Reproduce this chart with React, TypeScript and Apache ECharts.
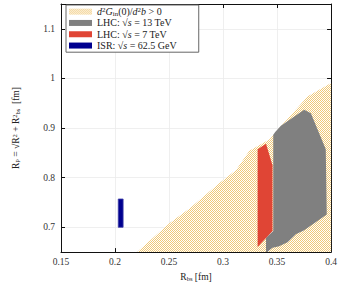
import React, { useEffect, useRef } from "react";
import * as echarts from "echarts";

// Axis ticks
const xTicks = [0.15, 0.2, 0.25, 0.3, 0.35, 0.4];
const yTicks = [0.7, 0.8, 0.9, 1, 1.1];

// Region d2G/d2b > 0 (hatched)
const hatchX = [0.2204, 0.2506, 0.269, 0.2813, 0.2967, 0.3121, 0.3244, 0.3428, 0.352, 0.3785, 0.4, 0.4];
const hatchY = [0.65, 0.7087, 0.7378, 0.7605, 0.7895, 0.8153, 0.8541, 0.8767, 0.8994, 0.964, 0.991, 0.65];

// LHC 13 TeV region
const lhc13X = [0.3398, 0.3398, 0.3465, 0.3465, 0.3483, 0.3536, 0.3751, 0.3813, 0.3951, 0.396, 0.3751, 0.3674, 0.3597, 0.352, 0.3458, 0.3428, 0.341];
const lhc13Y = [0.65, 0.679, 0.6926, 0.8864, 0.892, 0.9045, 0.9368, 0.93, 0.8574, 0.726, 0.694, 0.6862, 0.67, 0.6616, 0.659, 0.6539, 0.65];

// LHC 7 TeV region
const lhc7X = [0.332, 0.3398, 0.3458, 0.3458, 0.332];
const lhc7Y = [0.8574, 0.8684, 0.825, 0.6926, 0.6603];

// ISR 62.5 GeV region
const isrX = [0.203, 0.2075, 0.2075, 0.203];
const isrY = [0.7, 0.7, 0.757, 0.757];

const names = ["hatch", "lhc13", "lhc7", "isr"];
const labels: Record<string, string> = {
  hatch: "{i|d}{sup|2}{i|G}{sub|in}{n|(0)/}{i|d}{sup|2}{i|b}{n| > 0}",
  lhc13: "{n|LHC: √}{i|s}{n| = 13 TeV}",
  lhc7: "{n|LHC: √}{i|s}{n| = 7 TeV}",
  isr: "{n|ISR: √}{i|s}{n| = 62.5 GeV}",
};

const FONT = "Liberation Serif";
const FS = 9.5;
const LFS = 10;

const rich = {
  n: { fontFamily: FONT, fontSize: FS, color: "#222" },
  i: { fontFamily: FONT, fontSize: FS, fontStyle: "italic", color: "#222" },
  sup: { fontFamily: FONT, fontSize: 6.5, color: "#222", verticalAlign: "top" },
  sub: { fontFamily: FONT, fontSize: 6.5, color: "#222", verticalAlign: "bottom" },
};
const legendRich = {
  n: { fontFamily: FONT, fontSize: LFS, color: "#222" },
  i: { fontFamily: FONT, fontSize: LFS, fontStyle: "italic", color: "#222" },
  sup: { fontFamily: FONT, fontSize: 7, color: "#222", verticalAlign: "top" },
  sub: { fontFamily: FONT, fontSize: 7, color: "#222", verticalAlign: "bottom" },
};

function makePattern() {
  const c = document.createElement("canvas");
  c.width = 2;
  c.height = 2;
  const ctx = c.getContext("2d")!;
  ctx.fillStyle = "#ffffff";
  ctx.fillRect(0, 0, 2, 2);
  ctx.fillStyle = "#f0c878";
  ctx.fillRect(0, 0, 1, 1);
  ctx.fillRect(1, 1, 1, 1);
  return { image: c, repeat: "repeat", imageWidth: 2, imageHeight: 2 } as any;
}

function polySeries(name: string, xs: number[], ys: number[], fill: any, stroke?: string, lw?: number) {
  const pts = xs.map((x, i) => [x, ys[i]]);
  return {
    type: "custom",
    name,
    coordinateSystem: "cartesian2d",
    xAxisIndex: 0,
    yAxisIndex: 0,
    data: pts,
    encode: { x: 0, y: 1 },
    clip: true,
    silent: true,
    itemStyle: { color: fill },
    renderItem: (params: any, api: any) => {
      if (params.dataIndex !== 0) return null;
      const points = pts.map((p) => api.coord(p));
      return {
        type: "polygon",
        shape: { points },
        style: { fill, stroke: stroke || null, lineWidth: lw || 0 },
      };
    },
  };
}

export default function App() {
  const ref = useRef<HTMLDivElement>(null);
  useEffect(() => {
    if (!ref.current) return;
    const chart = echarts.init(ref.current, null, { renderer: "svg" });
    const pattern = makePattern();
    const colors: Record<string, any> = {
      hatch: pattern,
      lhc13: "#808080",
      lhc7: "#e04535",
      isr: "#00008f",
    };
    const axisCommon = {
      axisLine: { show: true, lineStyle: { color: "#111", width: 1 } },
      axisTick: { show: true, inside: true, length: 4, lineStyle: { color: "#111" } },
    };
    chart.setOption({
      animation: false,
      backgroundColor: "#fff",
      grid: { left: 61, right: 8, top: 4, bottom: 25, containLabel: false },
      legend: {
        show: true,
        left: 66,
        top: 5,
        orient: "vertical",
        itemWidth: 23,
        itemHeight: 6,
        itemGap: 0,
        itemStyle: { borderWidth: 0 },
        padding: [1, 22, 1, 3],
        borderColor: "#666",
        borderWidth: 1,
        borderRadius: 0,
        backgroundColor: "#fff",
        selectedMode: false,
        textStyle: { fontFamily: FONT, fontSize: LFS, lineHeight: 11.3, rich: legendRich },
        formatter: (name: string) => labels[name],
        data: names.map((n) => ({ name: n, icon: "rect", itemStyle: { color: colors[n] } })),
      },
      xAxis: [
        {
          type: "value",
          min: 0.15,
          max: 0.4,
          interval: 0.05,
          position: "bottom",
          name: "{n|R}{sub|bs}{n| [fm]}",
          nameLocation: "middle",
          nameGap: 15,
          nameTextStyle: { rich },
          ...axisCommon,
          axisLabel: { fontFamily: FONT, fontSize: FS, color: "#333", margin: 5 },
          splitLine: { show: true, lineStyle: { color: "#ebebeb", width: 0.8 } },
        },
        {
          type: "value",
          min: 0.15,
          max: 0.4,
          interval: 0.05,
          position: "top",
          ...axisCommon,
          axisLabel: { show: false },
          splitLine: { show: false },
        },
      ],
      yAxis: [
        {
          type: "value",
          min: 0.65,
          max: 1.15,
          position: "left",
          name: "{n|R}{sub|P}{n| = √}{n|R}{sup|2}{n| + R}{sup|2}{sub|bs}{n|  [fm]}",
          nameLocation: "middle",
          nameRotate: 90,
          nameGap: 40,
          nameTextStyle: { rich },
          ...axisCommon,
          axisTick: { ...axisCommon.axisTick, customValues: yTicks },
          axisLabel: { fontFamily: FONT, fontSize: FS, color: "#333", margin: 6, customValues: yTicks },
          splitLine: { show: true, lineStyle: { color: "#ebebeb", width: 0.8 } },
        },
        {
          type: "value",
          min: 0.65,
          max: 1.15,
          position: "right",
          ...axisCommon,
          axisTick: { ...axisCommon.axisTick, customValues: yTicks },
          axisLabel: { show: false },
          splitLine: { show: false },
        },
      ],
      series: [
        polySeries("hatch", hatchX, hatchY, colors.hatch),
        polySeries("lhc13", lhc13X, lhc13Y, colors.lhc13),
        polySeries("lhc7", lhc7X, lhc7Y, colors.lhc7),
        polySeries("isr", isrX, isrY, colors.isr, "#4040a8", 0.8),
      ],
    });
    return () => chart.dispose();
  }, []);
  return (
    <div
      ref={ref}
      style={{ position: "fixed", left: 0, top: 0, width: 340, height: 287, background: "#fff" }}
    />
  );
}
